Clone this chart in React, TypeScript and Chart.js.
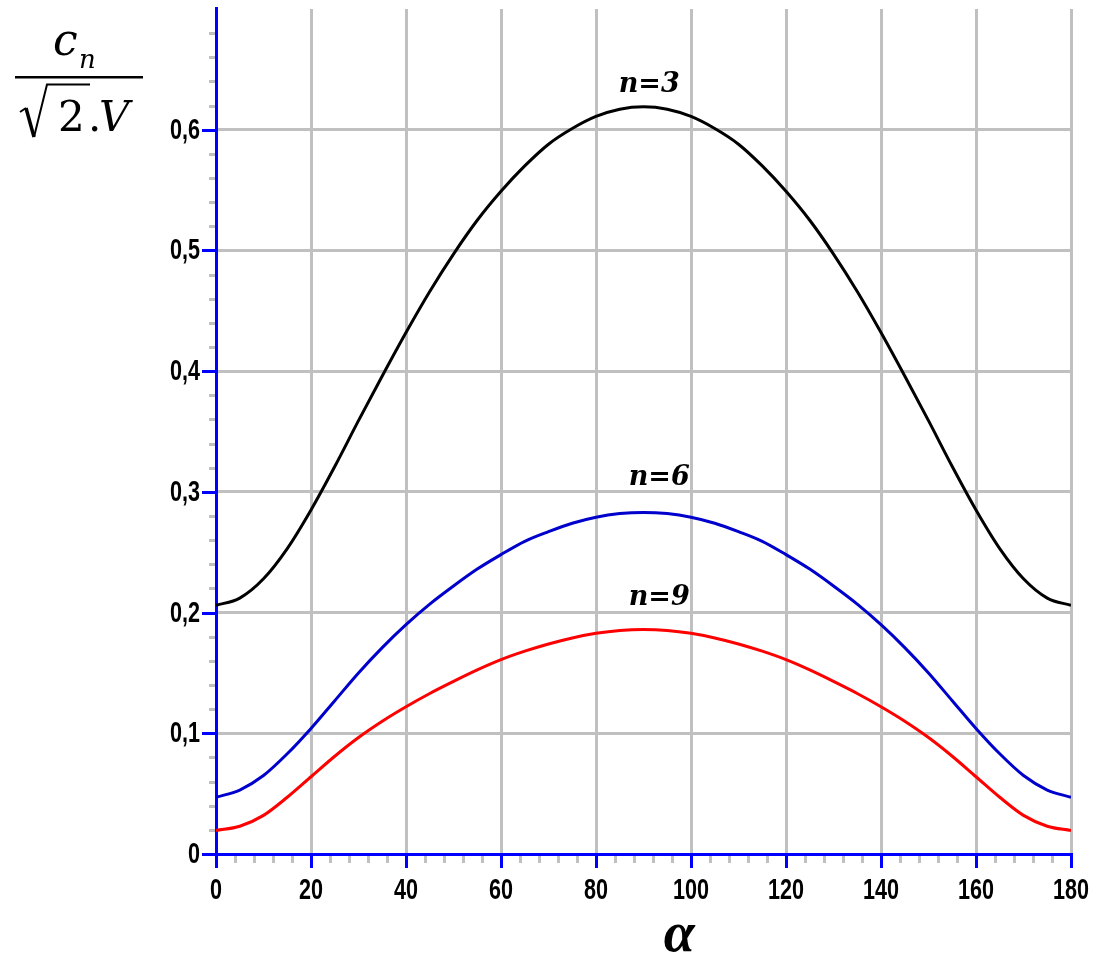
import React, { useEffect, useRef } from "react";
import { Chart, registerables } from "chart.js";

Chart.register(...registerables);

// ---- data ----
const ALPHA = [0, 5, 10, 15, 20, 25, 30, 35, 40, 45, 50, 55, 60, 65, 70, 75, 80, 85, 90,
  95, 100, 105, 110, 115, 120, 125, 130, 135, 140, 145, 150, 155, 160, 165, 170, 175, 180];

const N3 = [0.206, 0.212, 0.228, 0.253, 0.285, 0.321, 0.359, 0.396, 0.432, 0.466, 0.497, 0.525,
  0.549, 0.570, 0.588, 0.601, 0.611, 0.617, 0.619, 0.617, 0.611, 0.601, 0.588, 0.570, 0.549,
  0.525, 0.497, 0.466, 0.432, 0.396, 0.359, 0.321, 0.285, 0.253, 0.228, 0.212, 0.206];

const N6 = [0.047, 0.053, 0.065, 0.083, 0.104, 0.127, 0.150, 0.171, 0.190, 0.207, 0.222, 0.236,
  0.248, 0.259, 0.267, 0.274, 0.279, 0.282, 0.283, 0.282, 0.279, 0.274, 0.267, 0.259, 0.248,
  0.236, 0.222, 0.207, 0.190, 0.171, 0.150, 0.127, 0.104, 0.083, 0.065, 0.053, 0.047];

const N9 = [0.0195, 0.023, 0.032, 0.047, 0.064, 0.081, 0.0965, 0.110, 0.122, 0.133, 0.143, 0.1525,
  0.161, 0.168, 0.174, 0.179, 0.1828, 0.1852, 0.186, 0.1852, 0.1828, 0.179, 0.174, 0.168, 0.161,
  0.1525, 0.143, 0.133, 0.122, 0.110, 0.0965, 0.081, 0.064, 0.047, 0.032, 0.023, 0.0195];

const SERIES_NAMES = ["n=3", "n=6", "n=9"];
const SERIES_COLORS = ["#000000", "#0000cc", "#ff0000"];
const NAME_ALPHA = [91.2, 93.3, 93.3];
const NAME_VALUE = [0.631, 0.306, 0.206];

const X_MIN = 0;
const X_MAX = 180;
const X_STEP = 20;
const X_MINOR = 4;
const Y_MIN = 0;
const Y_MAX = 0.7;
const Y_STEP = 0.1;
const Y_MINOR = 0.02;

const X_TITLE = "α";
const X_TITLE_AT = 97.5;
const Y_TITLE_NUM = "c";
const Y_TITLE_SUB = "n";
const Y_TITLE_DEN_A = "2";
const Y_TITLE_DEN_DOT = ".";
const Y_TITLE_DEN_B = "V";

const GRID = "#c0c0c0";
const AXIS = "#0000ff";
const TICK_FONT = 'bold 30px "Liberation Sans"';
const NAME_FONT = 'italic bold 27px "DejaVu Serif"';

const isMult = (v: number, s: number) => Math.abs(v / s - Math.round(v / s)) < 1e-6;
const fmtY = (v: number) => (Math.abs(v) < 1e-9 ? "0" : (Math.round(v * 10) / 10).toString().replace(".", ","));

function condensedText(ctx: CanvasRenderingContext2D, text: string, x: number, y: number, align: CanvasTextAlign) {
  ctx.save();
  ctx.translate(x, y);
  ctx.scale(0.72, 1);
  ctx.textAlign = align;
  ctx.textBaseline = "alphabetic";
  ctx.fillText(text, 0, 0);
  ctx.restore();
}

const oldAxes = {
  id: "oldAxes",
  beforeDatasetsDraw(chart: any) {
    const { ctx } = chart;
    const xs = chart.scales.x;
    const ys = chart.scales.y;
    const x0 = Math.round(xs.getPixelForValue(X_MIN));
    const x1 = Math.round(xs.getPixelForValue(X_MAX));
    const y0 = Math.round(ys.getPixelForValue(Y_MIN));
    const yTop = Math.round(ys.getPixelForValue(Y_MAX));
    ctx.save();
    ctx.fillStyle = GRID;
    for (let v = X_MIN + X_MINOR; v < X_MAX; v += X_MINOR) {
      if (isMult(v, X_STEP)) continue;
      const px = Math.round(xs.getPixelForValue(v));
      ctx.fillRect(px - 1, y0 + 2, 3, 7);
    }
    for (let i = 1; ; i++) {
      const v = Y_MIN + i * Y_MINOR;
      if (v > Y_MAX - 1e-9) break;
      if (isMult(v, Y_STEP)) continue;
      const py = Math.round(ys.getPixelForValue(v));
      ctx.fillRect(x0 - 7, py - 1, 6, 3);
    }
    ctx.fillStyle = AXIS;
    ctx.fillRect(x0 - 1, yTop - 2, 3, y0 - yTop + 16);
    ctx.fillRect(x0 - 14, y0 - 1, x1 - x0 + 16, 3);
    xs.ticks.forEach((t: any) => {
      const px = Math.round(xs.getPixelForValue(t.value));
      ctx.fillRect(px - 1, y0, 3, 14);
    });
    ys.ticks.forEach((t: any) => {
      if (Math.abs(t.value - Y_MAX) < 1e-6) return;
      const py = Math.round(ys.getPixelForValue(t.value));
      ctx.fillRect(x0 - 14, py - 1, 14, 3);
    });
    ctx.restore();
  },
  afterDraw(chart: any) {
    const { ctx } = chart;
    const xs = chart.scales.x;
    const ys = chart.scales.y;
    const x0 = Math.round(xs.getPixelForValue(X_MIN));
    const y0 = Math.round(ys.getPixelForValue(Y_MIN));
    ctx.save();
    ctx.fillStyle = "#000";
    ctx.font = TICK_FONT;
    xs.ticks.forEach((t: any) => {
      const px = Math.round(xs.getPixelForValue(t.value));
      condensedText(ctx, String(t.value), px, y0 + 45, "center");
    });
    ys.ticks.forEach((t: any) => {
      if (Math.abs(t.value - Y_MAX) < 1e-6) return;
      const py = Math.round(ys.getPixelForValue(t.value));
      condensedText(ctx, fmtY(t.value), x0 - 16, py + 9, "right");
    });

    // curve names
    ctx.font = NAME_FONT;
    ctx.textAlign = "center";
    ctx.textBaseline = "alphabetic";
    SERIES_NAMES.forEach((name, i) => {
      ctx.fillText(name, xs.getPixelForValue(NAME_ALPHA[i]), ys.getPixelForValue(NAME_VALUE[i]));
    });

    // x title
    ctx.font = 'italic bold 56px "Liberation Serif"';
    ctx.fillText(X_TITLE, xs.getPixelForValue(X_TITLE_AT), y0 + 97);

    // y title (fraction)
    ctx.textAlign = "left";
    ctx.font = 'italic 44px "DejaVu Serif"';
    ctx.fillText(Y_TITLE_NUM, 53, 55);
    ctx.font = 'italic 26px "DejaVu Serif"';
    ctx.fillText(Y_TITLE_SUB, 79, 68);
    ctx.fillRect(15, 76, 128, 2.5);
    ctx.font = '42px "DejaVu Serif"';
    ctx.fillText(Y_TITLE_DEN_A, 58, 131);
    ctx.fillText(Y_TITLE_DEN_DOT, 88, 131);
    ctx.font = 'italic 42px "DejaVu Serif"';
    ctx.fillText(Y_TITLE_DEN_B, 99, 131);
    // radical sign
    ctx.strokeStyle = "#000";
    ctx.lineJoin = "miter";
    ctx.lineWidth = 2;
    ctx.beginPath();
    ctx.moveTo(20, 112);
    ctx.lineTo(26, 108);
    ctx.stroke();
    ctx.lineWidth = 3.5;
    ctx.beginPath();
    ctx.moveTo(26, 108);
    ctx.lineTo(34, 137);
    ctx.stroke();
    ctx.lineWidth = 2;
    ctx.beginPath();
    ctx.moveTo(34, 137);
    ctx.lineTo(47, 84.5);
    ctx.lineTo(90, 84.5);
    ctx.stroke();
    ctx.restore();
  },
};

export default function App() {
  const ref = useRef<HTMLCanvasElement | null>(null);
  useEffect(() => {
    if (!ref.current) return;
    const series = [N3, N6, N9];
    const chart = new Chart(ref.current, {
      type: "line",
      data: {
        datasets: series.map((vals, i) => ({
          label: SERIES_NAMES[i],
          data: ALPHA.map((a, j) => ({ x: a, y: vals[j] })),
          borderColor: SERIES_COLORS[i],
          borderWidth: 3,
          pointRadius: 0,
          cubicInterpolationMode: "monotone" as const,
          fill: false,
        })),
      },
      options: {
        animation: false,
        responsive: false,
        devicePixelRatio: 1,
        layout: { padding: { left: 216, right: 34, top: 9, bottom: 100 } },
        plugins: { legend: { display: false }, tooltip: { enabled: false }, title: { display: false } },
        scales: {
          x: {
            type: "linear",
            min: X_MIN,
            max: X_MAX,
            ticks: { stepSize: X_STEP, display: false },
            border: { display: false },
            grid: {
              drawTicks: false,
              lineWidth: 3,
              color: (c: any) => (c.tick && Math.abs(c.tick.value - X_MIN) < 1e-6 ? "rgba(0,0,0,0)" : GRID),
            },
            afterFit: (s: any) => { s.height = 0; },
          },
          y: {
            type: "linear",
            min: Y_MIN,
            max: Y_MAX,
            ticks: { stepSize: Y_STEP, display: false },
            border: { display: false },
            grid: {
              drawTicks: false,
              lineWidth: 3,
              color: (c: any) =>
                c.tick && (Math.abs(c.tick.value - Y_MIN) < 1e-6 || Math.abs(c.tick.value - Y_MAX) < 1e-6)
                  ? "rgba(0,0,0,0)"
                  : GRID,
            },
            afterFit: (s: any) => { s.width = 0; },
          },
        },
      },
      plugins: [oldAxes],
    } as any);
    return () => chart.destroy();
  }, []);
  return (
    <div style={{ position: "absolute", left: 0, top: 0, width: 1105, height: 954, background: "#fff" }}>
      <canvas ref={ref} width={1105} height={954} style={{ display: "block" }} />
    </div>
  );
}
